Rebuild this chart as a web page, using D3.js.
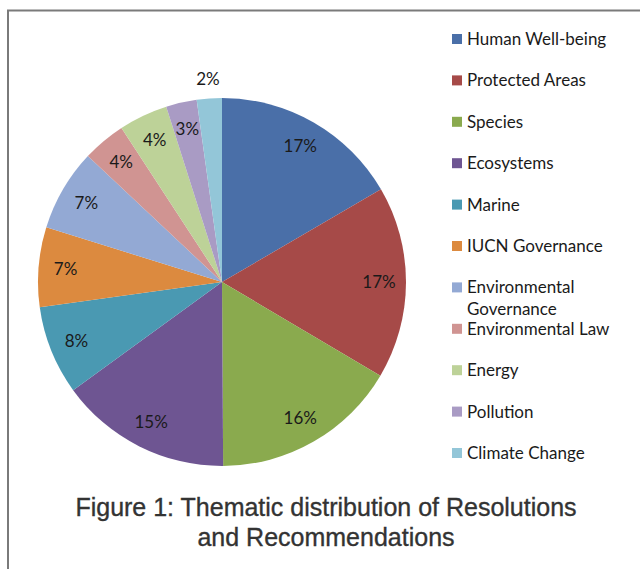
<!DOCTYPE html>
<html>
<head>
<meta charset="utf-8">
<script src="https://cdn.jsdelivr.net/npm/d3@7"></script>
<style>
  body { margin: 0; background: #fff; }
  svg { display: block; }
</style>
</head>
<body>
<div id="chart"></div>
<script>
const width = 640,
  height = 569;

// data
const themes = ["Human Well-being", "Protected Areas", "Species", "Ecosystems", "Marine",
  "IUCN Governance", "Environmental Governance", "Environmental Law", "Energy", "Pollution", "Climate Change"];
const shares = [16.6, 16.9, 16.4, 15.1, 7.8, 7.0, 7.2, 3.8, 4.3, 2.7, 2.2];
const pctLabels = ["17%", "17%", "16%", "15%", "8%", "7%", "7%", "4%", "4%", "3%", "2%"];
const colors = ["#4A6FA8", "#A64A48", "#8AAA4E", "#6E5592", "#4A99B2",
  "#DC8A3F", "#93A9D4", "#D09492", "#BDD298", "#A99BC4", "#93C6D8"];

const cx = 222, cy = 282, r = 184;

const svg = d3.select("#chart")
  .append("svg")
  .attr("width", width)
  .attr("height", height);

// frame
svg.append("path")
  .attr("d", `M8,${height} L8,10.5 L${width},10.5`)
  .attr("fill", "none")
  .attr("stroke", "#7a7a7a")
  .attr("stroke-width", 2);

const pie = d3.pie().sort(null).value(d => d);
const arcs = pie(shares);
const arc = d3.arc().innerRadius(0).outerRadius(r);
const labelArc = d3.arc().innerRadius(157).outerRadius(157);
const outerArc = d3.arc().innerRadius(203).outerRadius(203);

const g = svg.append("g").attr("transform", `translate(${cx},${cy})`);

g.selectAll("path.slice")
  .data(arcs)
  .join("path")
  .attr("class", "slice")
  .attr("d", arc)
  .attr("fill", (d, i) => colors[i]);

g.selectAll("text.pct")
  .data(arcs)
  .join("text")
  .attr("class", "pct")
  .attr("transform", (d, i) => `translate(${(i === arcs.length - 1 ? outerArc : labelArc).centroid(d)})`)
  .attr("text-anchor", "middle")
  .attr("dy", "0.35em")
  .style("font-family", "Lato, 'Open Sans', sans-serif")
  .style("font-size", "17px")
  .style("fill", "#1a1a1a")
  .text((d, i) => pctLabels[i]);

// legend
const legY = d3.scalePoint()
  .domain(themes)
  .range([39, 453]);

const leg = svg.append("g")
  .selectAll("g")
  .data(themes)
  .join("g")
  .attr("transform", d => `translate(452,${legY(d)})`);

leg.append("rect")
  .attr("x", 0)
  .attr("y", -5)
  .attr("width", 10)
  .attr("height", 10)
  .attr("fill", (d, i) => colors[i]);

leg.append("text")
  .attr("x", 15)
  .attr("dy", "0.35em")
  .style("font-family", "Lato, 'Open Sans', sans-serif")
  .style("font-size", "17px")
  .style("fill", "#1a1a1a")
  .each(function(d) {
    const t = d3.select(this);
    if (d === "Environmental Governance") {
      t.append("tspan").attr("x", 15).text("Environmental");
      t.append("tspan").attr("x", 15).attr("dy", "1.3em").text("Governance");
    } else {
      t.text(d);
    }
  });

// caption
const caption = svg.append("text")
  .attr("x", 326)
  .attr("text-anchor", "middle")
  .style("font-family", "'Liberation Sans', Arial, sans-serif")
  .style("font-size", "25px")
  .style("fill", "#333")
  .style("stroke", "#333")
  .style("stroke-width", 0.35);
caption.append("tspan").attr("x", 326).attr("y", 516).text("Figure 1: Thematic distribution of Resolutions");
caption.append("tspan").attr("x", 326).attr("y", 546).text("and Recommendations");
</script>
</body>
</html>
